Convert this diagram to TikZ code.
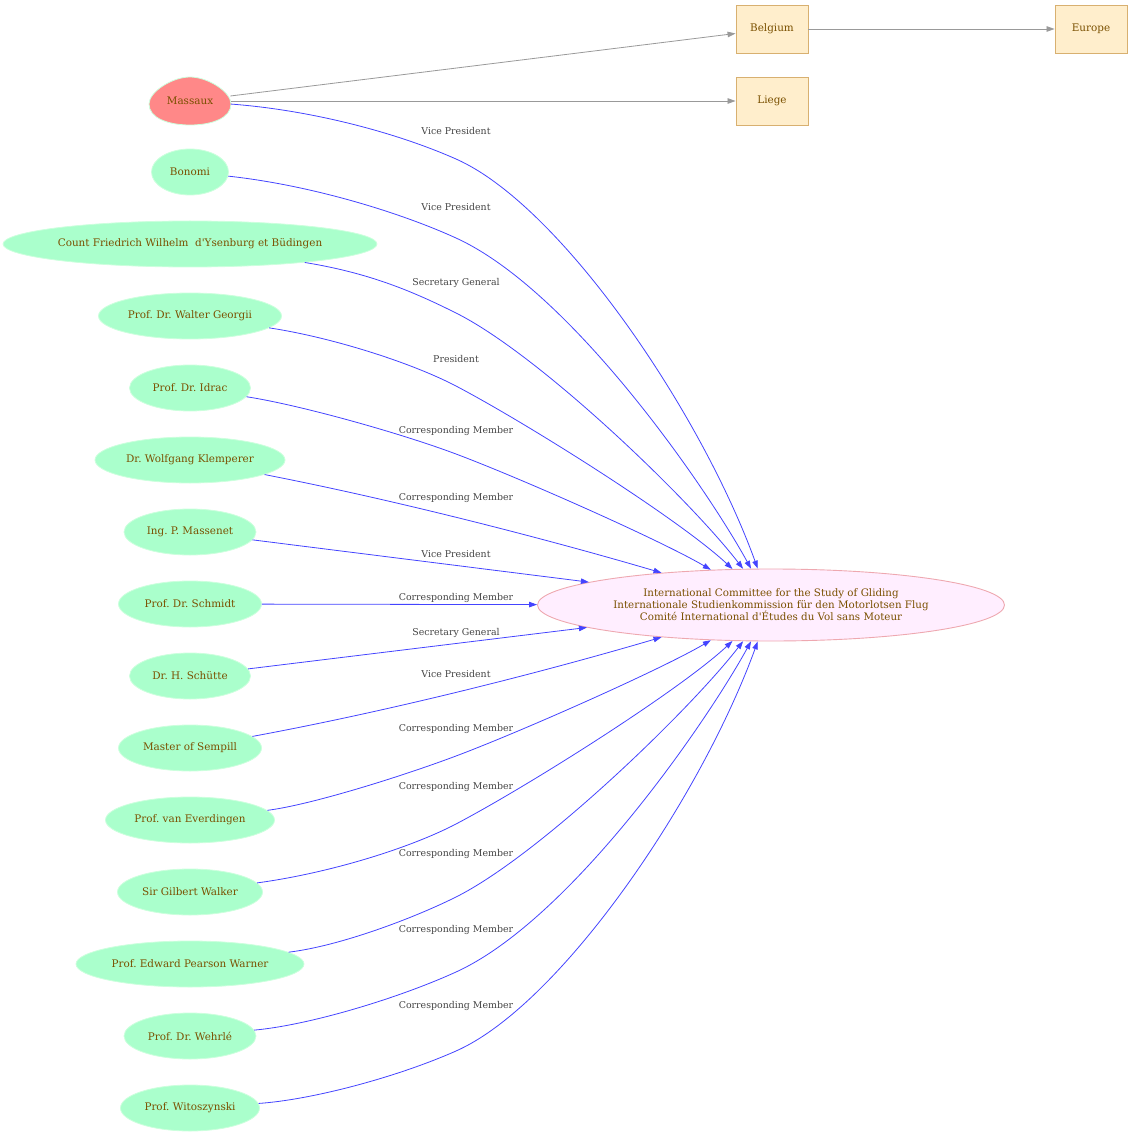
\documentclass[tikz,border=0pt]{standalone}
\usepackage{fontspec}
\setmainfont{DejaVu Serif}
\usetikzlibrary{shapes.geometric,arrows.meta}
\definecolor{pgreen}{HTML}{AAFFCC}
\definecolor{pgreenline}{HTML}{CCFFDD}
\definecolor{salmon}{HTML}{FF8888}
\definecolor{txt}{HTML}{7A5000}
\definecolor{cfill}{HTML}{FFEEFF}
\definecolor{cline}{HTML}{EEA8B0}
\definecolor{bfill}{HTML}{FFEECC}
\definecolor{bline}{HTML}{D8B070}
\definecolor{eblue}{HTML}{4444FF}
\definecolor{egray}{HTML}{999999}
\definecolor{ltxt}{HTML}{444444}
\frenchspacing
\begin{document}
\begin{tikzpicture}[x=1pt,y=-1pt,
  person/.style={ellipse, fill=pgreen, draw=pgreenline, line width=0.8pt,
    minimum height=46pt, inner sep=0pt, text=txt, font=\fontsize{10.4}{12}\selectfont},
  eggnode/.style={ellipse, minimum width=82pt, minimum height=48pt, inner sep=0pt,
    text=txt, font=\fontsize{10.4}{12}\selectfont},
  place/.style={rectangle, fill=bfill, draw=bline, line width=0.9pt,
    minimum width=72pt, minimum height=48pt, inner sep=0pt, text=txt,
    font=\fontsize{10.4}{12}\selectfont},
  body/.style={ellipse, fill=cfill, draw=cline, line width=0.9pt,
    minimum width=467pt, minimum height=72pt, inner sep=0pt, text=txt,
    align=center, font=\fontsize{10.3}{12}\selectfont},
  role/.style={text=ltxt, inner sep=0pt, font=\fontsize{9.4}{11}\selectfont},
  rel/.style={draw=eblue, line width=0.8pt, -{Triangle[length=8pt,width=5.5pt]}},
  geo/.style={draw=egray, line width=0.8pt, -{Triangle[length=8pt,width=5.5pt]}}
]
\useasboundingbox (0,0) rectangle (1132,1139);

% egg outline for Massaux
\path[fill=salmon, draw=pgreenline, line width=0.8pt]
  (149,104) .. controls (149,118) and (168,125) .. (190,125)
  .. controls (212,125) and (231,118) .. (231,104)
  .. controls (231,92) and (208,77) .. (190,77)
  .. controls (172,77) and (149,92) .. (149,104) -- cycle;
\node[eggnode] (massaux) at (190,101) {Massaux};

\node[person, minimum width=77pt]  (bonomi)   at (190,172) {Bonomi};
\node[person, minimum width=368pt] (count)    at (190,244) {Count Friedrich Wilhelm~ d\textquotesingle Ysenburg et Büdingen};
\node[person, minimum width=183pt] (georgii)  at (190,316) {Prof. Dr. Walter Georgii};
\node[person, minimum width=121pt] (idrac)    at (190,388) {Prof. Dr. Idrac};
\node[person, minimum width=190pt] (klemp)    at (190,460) {Dr. Wolfgang Klemperer};
\node[person, minimum width=132pt] (massenet) at (190,532) {Ing. P. Massenet};
\node[person, minimum width=143pt] (schmidt)  at (190,604) {Prof. Dr. Schmidt};
\node[person, minimum width=121pt] (schutte)  at (190,676) {Dr. H. Schütte};
\node[person, minimum width=143pt] (sempill)  at (190,748) {Master of Sempill};
\node[person, minimum width=169pt] (everd)    at (190,820) {Prof. van Everdingen};
\node[person, minimum width=145pt] (walker)   at (190,892) {Sir Gilbert Walker};
\node[person, minimum width=228pt] (warner)   at (190,964) {Prof. Edward Pearson Warner};
\node[person, minimum width=132pt] (wehrle)   at (190,1036) {Prof. Dr. Wehrlé};
\node[person, minimum width=139pt] (witos)    at (190,1108) {Prof. Witoszynski};

\node[body] (icsg) at (771,605) {International Committee for the Study of Gliding\\Internationale Studienkommission für den Motorlotsen Flug\\Comité International d\textquotesingle Études du Vol sans Moteur};

\node[place] (belgium) at (772,29) {Belgium};
\node[place] (liege)   at (772,101) {Liege};
\node[place] (europe)  at (1091,29) {Europe};

% geography edges
\draw[geo] (massaux) -- (belgium);
\draw[geo] (massaux) -- (liege);
\draw[geo] (belgium) -- (europe);

% waypoints
\coordinate (m1) at (456,159);
\coordinate (m2) at (456,238);
\coordinate (m3) at (456,313);
\coordinate (m4) at (456,386);
\coordinate (m5) at (456,454);
\coordinate (m11) at (456,756);
\coordinate (m12) at (456,824);
\coordinate (m13) at (456,897);
\coordinate (m14) at (456,972);
\coordinate (m15) at (456,1051);

% role edges, top half
\draw[rel] (massaux) .. controls (310,110) and (395,132) .. (m1)
  .. controls (560,205) and (700,410) .. (icsg);
\draw[rel] (bonomi) .. controls (310,185) and (399,212) .. (m2)
  .. controls (570,290) and (705,485) .. (icsg);
\draw[rel] (count) .. controls (370,273) and (414,292) .. (m3)
  .. controls (540,355) and (690,500) .. (icsg);
\draw[rel] (georgii) .. controls (330,337) and (410,362) .. (m4)
  .. controls (530,425) and (680,520) .. (icsg);
\draw[rel] (idrac) .. controls (300,405) and (400,433) .. (m5)
  .. controls (520,478) and (660,540) .. (icsg);
\draw[rel] (klemp) .. controls (400,501) and (550,540) .. (icsg);
\draw[rel] (massenet) -- (icsg);
\draw[rel] (schmidt) -- (icsg);
% bottom half
\draw[rel] (schutte) -- (icsg);
\draw[rel] (sempill) .. controls (400,709) and (550,670) .. (icsg);
\draw[rel] (everd) .. controls (310,805) and (400,777) .. (m11)
  .. controls (520,732) and (660,670) .. (icsg);
\draw[rel] (walker) .. controls (330,873) and (410,848) .. (m12)
  .. controls (530,785) and (680,690) .. (icsg);
\draw[rel] (warner) .. controls (340,946) and (414,918) .. (m13)
  .. controls (540,855) and (690,710) .. (icsg);
\draw[rel] (wehrle) .. controls (310,1025) and (399,998) .. (m14)
  .. controls (570,920) and (705,725) .. (icsg);
\draw[rel] (witos) .. controls (310,1100) and (395,1078) .. (m15)
  .. controls (560,1005) and (700,800) .. (icsg);

% role labels
\node[role] (r1)  at (456,131)  {Vice President};
\node[role] (r2)  at (456,207)  {Vice President};
\node[role] (r3)  at (456,283)  {Secretary General};
\node[role] (r4)  at (456,359)  {President};
\node[role] (r5)  at (456,431)  {Corresponding Member};
\node[role] (r6)  at (456,498)  {Corresponding Member};
\node[role] (r7)  at (456,554)  {Vice President};
\node[role] (r8)  at (456,598)  {Corresponding Member};
\node[role] (r9)  at (456,633)  {Secretary General};
\node[role] (r10) at (456,674)  {Vice President};
\node[role] (r11) at (456,729)  {Corresponding Member};
\node[role] (r12) at (456,787)  {Corresponding Member};
\node[role] (r13) at (456,854)  {Corresponding Member};
\node[role] (r14) at (456,930)  {Corresponding Member};
\node[role] (r15) at (456,1006) {Corresponding Member};
\end{tikzpicture}
\end{document}
